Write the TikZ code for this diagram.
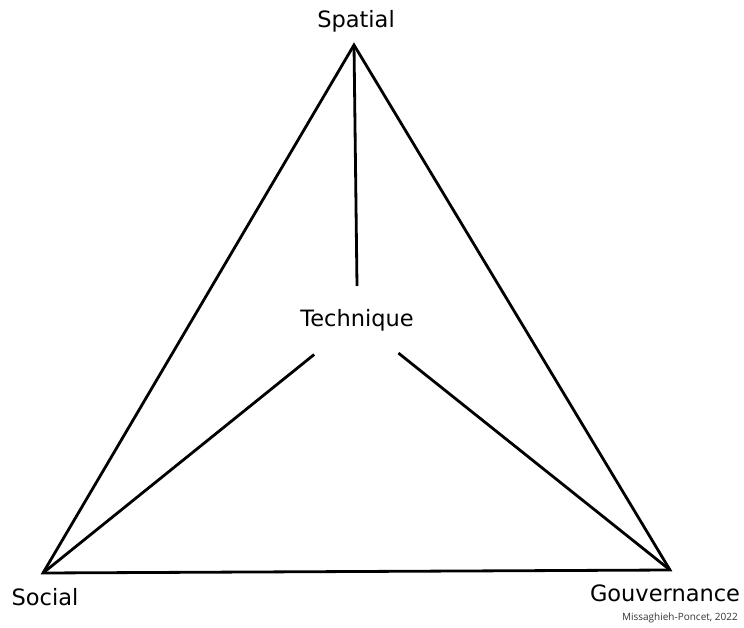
\documentclass[tikz,border=0pt]{standalone}
\usepackage{fontspec}
\setmainfont{DejaVu Sans}
\newfontfamily\creditfont{Open Sans}
\begin{document}
\begin{tikzpicture}[
    x=1pt, y=-1pt,
    edge/.style={line width=2.8pt, black, line join=miter},
    label/.style={font=\fontsize{22.5}{26}\selectfont, inner sep=0pt},
    credit/.style={font=\creditfont\fontsize{10}{12}\selectfont, text=black!80, inner sep=0pt}
    ]
    \useasboundingbox (0,0) rectangle (744,628);

    % Sommets du triangle
    \coordinate (spa) at (354,45);
    \coordinate (soc) at (43,573);
    \coordinate (gou) at (670,570);

    % Etiquettes
    \node[label] (spatial) at (356,21) {Spatial};
    \node[label] (social) at (45,597) {Social};
    \node[label] (gouvernance) at (665,593) {Gouvernance};
    \node[label] (tech) at (357,320) {Technique};
    \node[credit, anchor=east] (auteur) at (738,618) {Missaghieh-Poncet, 2022};

    % Triangle
    \draw[edge] (spa) -- (gou) -- (soc) -- cycle;

    % Liens vers le centre
    \draw[edge] (spa) -- ([yshift=34pt]tech.center);
    \draw[edge, shorten >=55pt] (soc) -- (tech.center);
    \draw[edge, shorten >=53pt] (gou) -- (tech.center);

\end{tikzpicture}
\end{document}
